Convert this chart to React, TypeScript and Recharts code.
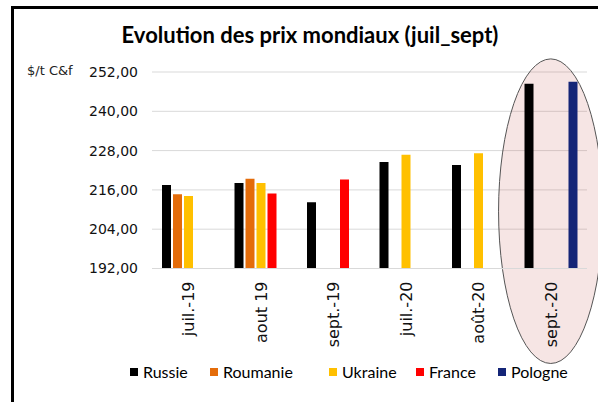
import React from 'react';
import { BarChart, Bar, XAxis, YAxis, CartesianGrid, ReferenceArea } from 'recharts';

const mois = ['juil.-19', 'aout 19', 'sept.-19', 'juil.-20', 'août-20', 'sept.-20'];
const russie = [217.5, 218.1, 212.2, 224.5, 223.6, 248.4];
const roumanie = [214.7, 219.4, null, null, null, null];
const ukraine = [214.1, 218.1, null, 226.7, 227.2, null];
const france = [null, 214.9, 219.2, null, null, null];
const pologne = [null, null, null, null, null, 249.0];
const yTicks = [192, 204, 216, 228, 240, 252];

const series = [
  { key: 'Russie', color: '#000000', values: russie, w: 80 },
  { key: 'Roumanie', color: '#E46C0A', values: roumanie, w: 119 },
  { key: 'Ukraine', color: '#FFC000', values: ukraine, w: 87 },
  { key: 'France', color: '#FF0000', values: france, w: 82 },
  { key: 'Pologne', color: '#142577', values: pologne, w: 80 },
];

const data = mois.map((m, i) => {
  const row: Record<string, string | number | null> = { mois: m };
  series.forEach((s) => (row[s.key] = s.values[i]));
  return row;
});

const fmt = (v: number) => v.toFixed(2).replace('.', ',');

function MonthTick(props: any) {
  const { x, y, payload } = props;
  return (
    <g transform={`translate(${x},${y})`}>
      <text
        transform="rotate(-90)"
        textAnchor="end"
        dy={6}
        fontFamily="DejaVu Sans"
        fontSize={16}
        fill="#111"
      >
        {payload.value}
      </text>
    </g>
  );
}

function Ellipse(props: any) {
  const { x, y, width, height } = props;
  return (
    <ellipse
      cx={x + width / 2}
      cy={y + height / 2}
      rx={width * 0.72}
      ry={Math.abs(height) / 2}
      fill="#C0504D"
      fillOpacity={0.15}
      stroke="#555"
      strokeWidth={1}
    />
  );
}

export default function App() {
  return (
    <div style={{ position: 'absolute', left: 0, top: 0, width: 598, height: 402, overflow: 'hidden', background: '#fff' }}>
      <div
        style={{
          position: 'absolute',
          left: 11,
          top: 6,
          width: 700,
          height: 500,
          borderLeft: '3px solid #000',
          borderTop: '3px solid #000',
        }}
      />
      <div
        style={{
          position: 'absolute',
          left: 0,
          width: 620,
          top: 21,
          textAlign: 'center',
          fontFamily: 'Lato',
          fontWeight: 700,
          fontSize: 22,
          color: '#000',
        }}
      >
        Evolution des prix mondiaux (juil_sept)
      </div>
      <div style={{ position: 'absolute', left: 27, top: 63, fontFamily: 'DejaVu Sans', fontSize: 13, color: '#222' }}>
        $/t C&amp;f
      </div>
      <div style={{ position: 'absolute', left: 0, top: 0 }}>
        <BarChart
          width={598}
          height={402}
          data={data}
          margin={{ top: 72, right: 11, left: 0, bottom: 33.5 }}
          barCategoryGap={10}
          barGap={2}
        >
          <CartesianGrid vertical={false} stroke="#d9d9d9" />
          <YAxis
            width={152}
            domain={[192, 252]}
            ticks={yTicks}
            allowDataOverflow
            axisLine={false}
            tickLine={false}
            tickMargin={8}
            tickFormatter={fmt}
            tick={{ fontFamily: 'DejaVu Sans', fontSize: 14, fill: '#111' }}
          />
          <XAxis
            dataKey="mois"
            interval={0}
            height={100}
            axisLine={{ stroke: '#d9d9d9' }}
            tickLine={false}
            tickMargin={7}
            tick={<MonthTick />}
          />
          {series.map((s) => (
            <Bar key={s.key} dataKey={s.key} fill={s.color} isAnimationActive={false} />
          ))}
          <ReferenceArea
            x1="sept.-20"
            x2="sept.-20"
            y1={163}
            y2={256}
            ifOverflow="visible"
            shape={<Ellipse />}
          />
        </BarChart>
      </div>
      <div
        style={{
          position: 'absolute',
          left: 130,
          top: 362,
          display: 'flex',
          fontFamily: 'Lato',
          fontSize: 16,
          color: '#000',
        }}
      >
        {series.map((s) => (
          <div key={s.key} style={{ width: s.w, display: 'flex', alignItems: 'center' }}>
            <span style={{ width: 8, height: 8, background: s.color, marginRight: 5, display: 'inline-block' }} />
            <span>{s.key}</span>
          </div>
        ))}
      </div>
    </div>
  );
}
